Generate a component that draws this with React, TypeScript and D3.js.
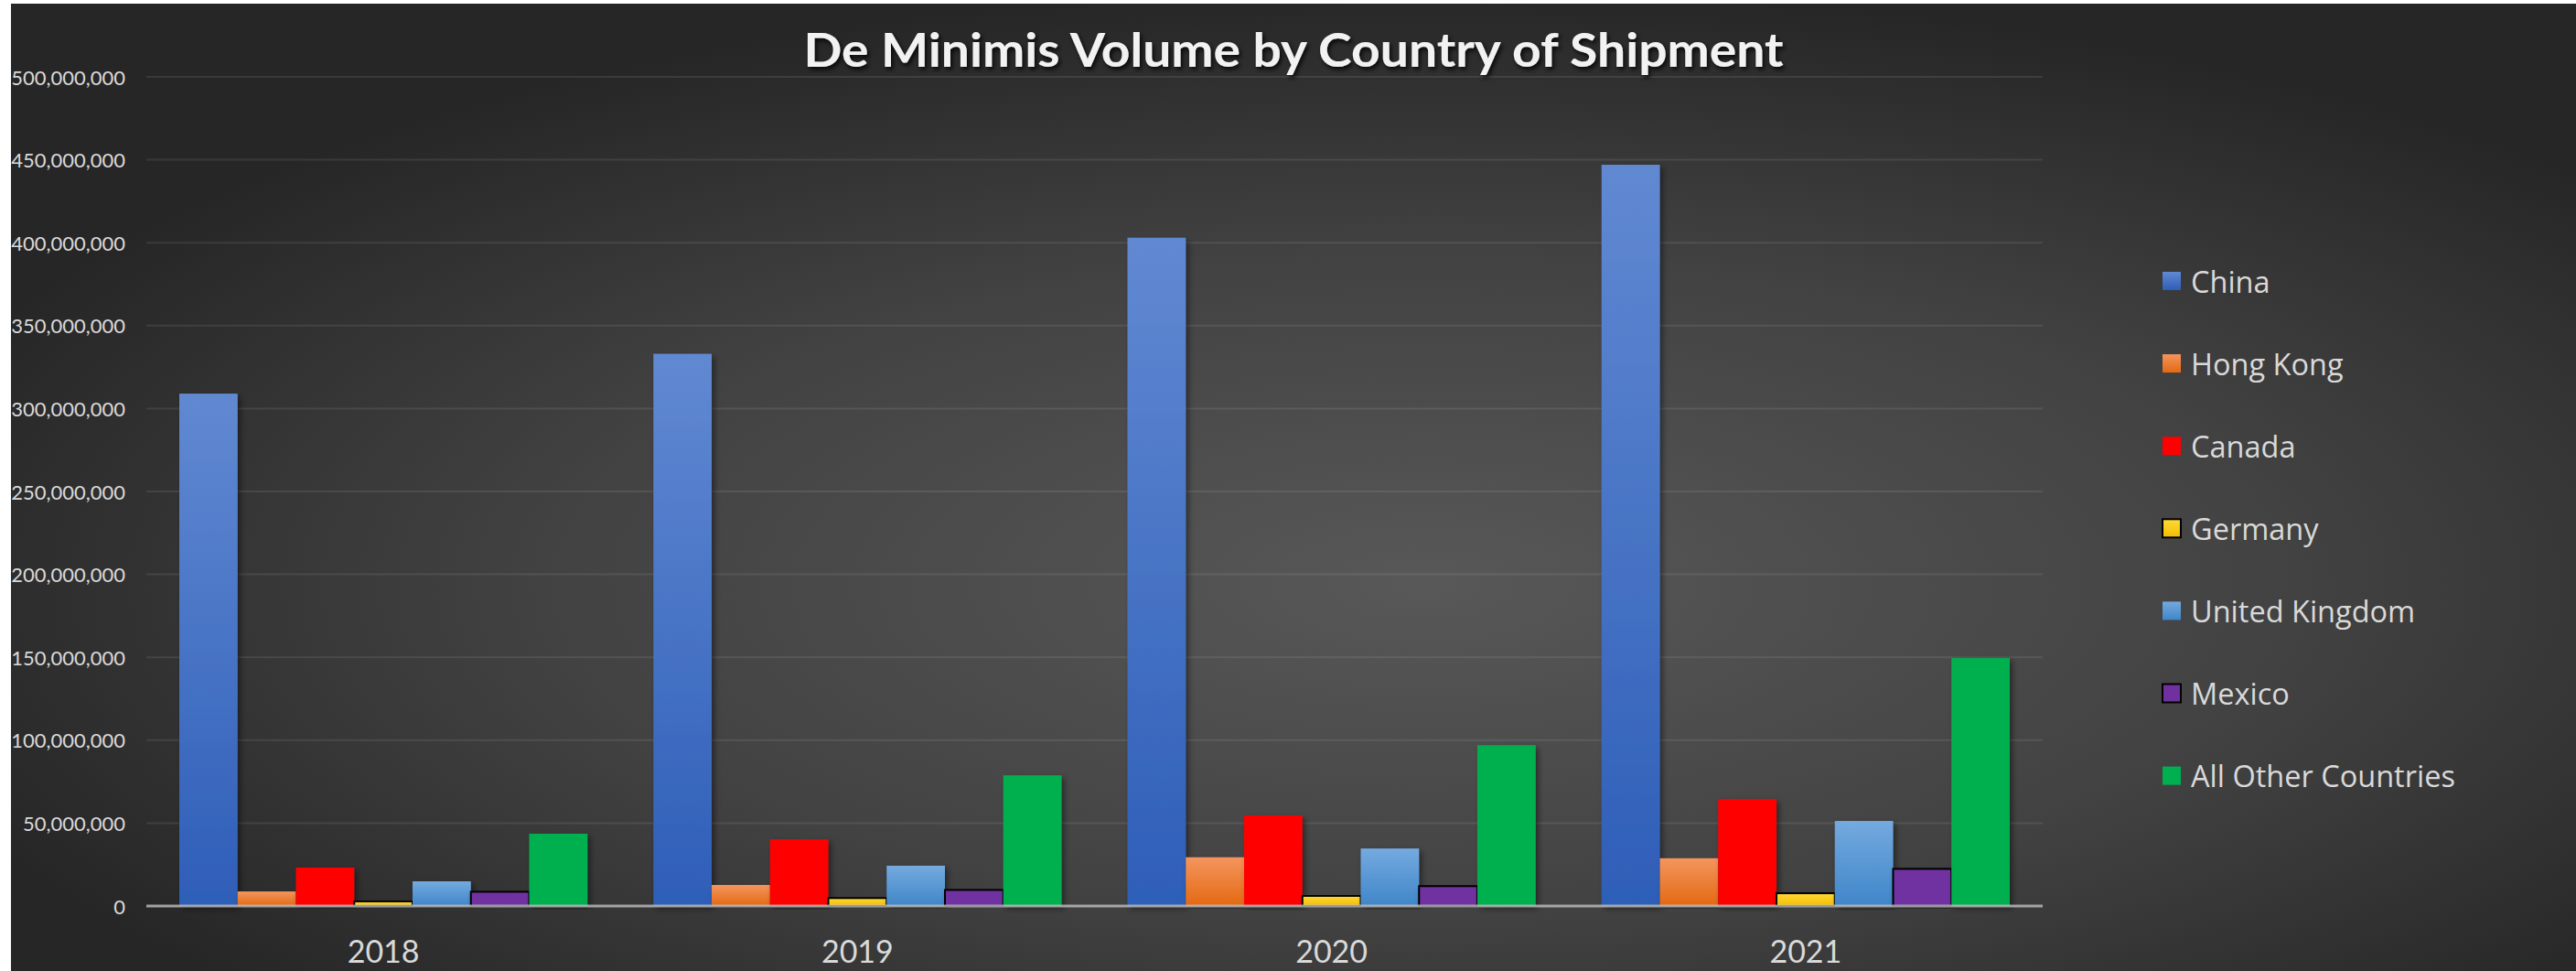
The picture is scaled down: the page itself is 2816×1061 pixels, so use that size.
import React from "react";
import * as d3 from "d3";

const years = ["2018", "2019", "2020", "2021"];
const seriesNames = ["China", "Hong Kong", "Canada", "Germany", "United Kingdom", "Mexico", "All Other Countries"];
const china = [309e6, 333e6, 403e6, 447e6];
const hongKong = [8.8e6, 12.7e6, 29.4e6, 28.8e6];
const canada = [23.2e6, 40.2e6, 54.6e6, 64.5e6];
const germany = [2.8e6, 4.8e6, 6.1e6, 7.7e6];
const unitedKingdom = [14.9e6, 24.3e6, 34.7e6, 51.3e6];
const mexico = [8.6e6, 9.7e6, 12.0e6, 22.4e6];
const allOther = [43.6e6, 78.8e6, 97.0e6, 149.5e6];
const yTicks = [0, 50e6, 100e6, 150e6, 200e6, 250e6, 300e6, 350e6, 400e6, 450e6, 500e6];

const seriesValues = [china, hongKong, canada, germany, unitedKingdom, mexico, allOther];
const seriesStyle = [
  { top: "#6189D2", bottom: "#2E5EB8", stroke: "none" },
  { top: "#F4955E", bottom: "#E36912", stroke: "none" },
  { top: "#FF0000", bottom: "#FF0000", stroke: "none" },
  { top: "#FFD93A", bottom: "#F2BD00", stroke: "#000000" },
  { top: "#74AADF", bottom: "#4086C9", stroke: "none" },
  { top: "#7030A0", bottom: "#7030A0", stroke: "#000000" },
  { top: "#00B050", bottom: "#00B050", stroke: "none" },
];

const W = 2816;
const H = 1061;

export default function App() {
  const y = d3.scaleLinear().domain([0, 500e6]).range([990, 84]);
  const x0 = d3.scaleBand<string>().domain(years).range([160, 2233]).padding(0);
  const x1 = d3
    .scaleBand<string>()
    .domain(seriesNames)
    .range([0, x0.bandwidth()])
    .paddingInner(0)
    .paddingOuter(0.565);
  const fmt = d3.format(",");
  const labelFont = "Lato, 'Open Sans', sans-serif";

  return (
    <svg
      width={W}
      height={H}
      style={{ position: "absolute", left: 0, top: 0, display: "block" }}
    >
      <defs>
        <radialGradient id="bg" cx="0.55" cy="0.6" r="0.62" fx="0.55" fy="0.6">
          <stop offset="0" stopColor="#585858" />
          <stop offset="0.55" stopColor="#424242" />
          <stop offset="1" stopColor="#262626" />
        </radialGradient>
        {seriesStyle.map((s, i) => (
          <linearGradient key={i} id={`g${i}`} x1="0" y1="0" x2="0" y2="1">
            <stop offset="0" stopColor={s.top} />
            <stop offset="1" stopColor={s.bottom} />
          </linearGradient>
        ))}
        <filter id="shadow" x="-20%" y="-5%" width="140%" height="110%">
          <feDropShadow dx="3" dy="3" stdDeviation="3" floodColor="#000" floodOpacity="0.45" />
        </filter>
        <filter id="tshadow" x="-5%" y="-30%" width="110%" height="160%">
          <feDropShadow dx="2" dy="3" stdDeviation="2.5" floodColor="#000" floodOpacity="0.85" />
        </filter>
      </defs>
      <rect x={0} y={0} width={W} height={H} fill="#ffffff" />
      <rect x={12} y={4} width={W - 12} height={H - 4} fill="url(#bg)" />

      {yTicks.slice(1).map((t) => (
        <line
          key={t}
          x1={160}
          x2={2233}
          y1={y(t)}
          y2={y(t)}
          stroke="#ffffff"
          strokeOpacity={0.09}
          strokeWidth={2}
        />
      ))}

      {yTicks.map((t) => (
        <text
          key={t}
          x={137}
          y={y(t)}
          textAnchor="end"
          dominantBaseline="central"
          fontFamily={labelFont}
          fontSize={22}
          fill="#D9D9D9"
        >
          {fmt(t)}
        </text>
      ))}

      {years.map((yr, yi) => (
        <g key={yr} transform={`translate(${x0(yr)},0)`}>
          {seriesNames.map((s, si) => {
            const v = seriesValues[si][yi];
            const st = seriesStyle[si];
            return (
              <rect
                key={s}
                x={x1(s)}
                y={y(v)}
                width={x1.bandwidth()}
                height={y(0) - y(v)}
                fill={`url(#g${si})`}
                stroke={st.stroke}
                strokeWidth={st.stroke === "none" ? 0 : 2}
                filter="url(#shadow)"
              />
            );
          })}
        </g>
      ))}

      <line x1={160} x2={2233} y1={y(0)} y2={y(0)} stroke="#BFBFBF" strokeOpacity={0.8} strokeWidth={3} />

      {years.map((yr) => (
        <text
          key={yr}
          x={(x0(yr) as number) + x0.bandwidth() / 2}
          y={1038}
          textAnchor="middle"
          dominantBaseline="central"
          fontFamily={labelFont}
          fontSize={34}
          fill="#D9D9D9"
        >
          {yr}
        </text>
      ))}

      <text
        x={1414}
        y={73}
        textAnchor="middle"
        fontFamily={labelFont}
        fontWeight="bold"
        fontSize={51}
        fill="#F2F2F2"
        textLength={1071}
        lengthAdjust="spacingAndGlyphs"
        filter="url(#tshadow)"
      >
        De Minimis Volume by Country of Shipment
      </text>

      {seriesNames.map((s, i) => {
        const cy = 307 + i * 90.1;
        const st = seriesStyle[i];
        return (
          <g key={s}>
            <rect
              x={2364}
              y={cy - 10}
              width={20}
              height={20}
              fill={`url(#g${i})`}
              stroke={st.stroke}
              strokeWidth={st.stroke === "none" ? 0 : 2}
            />
            <text
              x={2395}
              y={cy}
              dominantBaseline="central"
              fontFamily="'Open Sans', sans-serif"
              fontSize={32.5}
              fill="#D9D9D9"
            >
              {s}
            </text>
          </g>
        );
      })}
    </svg>
  );
}
